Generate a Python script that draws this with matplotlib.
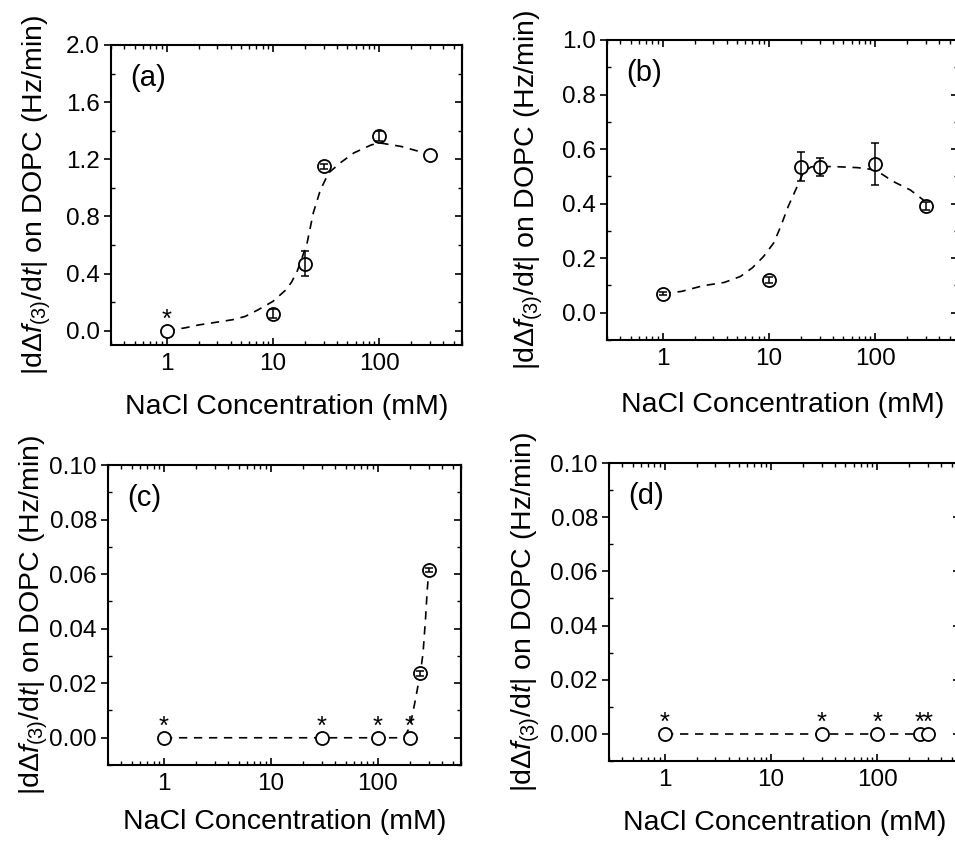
import matplotlib
matplotlib.use("Agg")
import matplotlib.pyplot as plt
from matplotlib.ticker import MultipleLocator, FixedLocator, LogLocator, FuncFormatter, FormatStrFormatter, NullFormatter

plt.rcParams["font.family"] = ["Liberation Sans", "DejaVu Sans"]
plt.rcParams["mathtext.fontset"] = "custom"
plt.rcParams["mathtext.rm"] = "Liberation Sans"
plt.rcParams["mathtext.it"] = "Liberation Sans:italic"
plt.rcParams["mathtext.bf"] = "Liberation Sans:bold"

# (a)
conc_a = [1, 10, 20, 30, 100, 300]
rate_a = [0.0, 0.12, 0.47, 1.15, 1.36, 1.23]
err_a = [0.0, 0.03, 0.09, 0.02, 0.035, 0.0]
stars_a = [1]
fit_a_x = [1, 1.5, 2, 3, 4.2, 5.5, 7.3, 10, 13, 15, 17, 19, 21, 24, 28, 33.5, 44, 58, 84, 100, 160, 250, 300]
fit_a_y = [0.0, 0.02, 0.04, 0.06, 0.077, 0.1, 0.147, 0.205, 0.28, 0.34, 0.42, 0.52, 0.615, 0.825, 0.986,
           1.105, 1.18, 1.245, 1.30, 1.315, 1.29, 1.25, 1.23]

# (b)
conc_b = [1, 10, 20, 30, 100, 300]
rate_b = [0.07, 0.12, 0.535, 0.535, 0.546, 0.392]
err_b = [0.005, 0.012, 0.053, 0.033, 0.076, 0.015]
stars_b = []
fit_b_x = [1, 1.5, 2.4, 3.8, 5.4, 7, 8.9, 11.1, 12.9, 15.2, 18.4, 21, 25, 40, 68, 100, 148, 214, 282, 300]
fit_b_y = [0.07, 0.078, 0.099, 0.111, 0.133, 0.165, 0.206, 0.256, 0.316, 0.39, 0.462, 0.513, 0.535,
           0.536, 0.532, 0.524, 0.481, 0.45, 0.414, 0.39]

# (c)
conc_c = [1, 30, 100, 200, 250, 300]
rate_c = [0.0, 0.0, 0.0, 0.0, 0.0236, 0.0615]
err_c = [0.0, 0.0, 0.0, 0.0, 0.001, 0.0008]
stars_c = [1, 30, 100, 200]
fit_c_x = [1, 30, 100, 150, 180, 200, 225, 240, 250, 265, 280, 290, 300]
fit_c_y = [0, 0, 0, 0, 0.0008, 0.004, 0.014, 0.02, 0.0236, 0.031, 0.044, 0.054, 0.0615]

# (d)
conc_d = [1, 30, 100, 250, 300]
rate_d = [0.0, 0.0, 0.0, 0.0, 0.0]
err_d = [0.0, 0.0, 0.0, 0.0, 0.0]
stars_d = [1, 30, 100, 250, 300]
fit_d_x = [1, 30, 100, 250, 300]
fit_d_y = [0, 0, 0, 0, 0]

ylabel = r"|dΔ$\mathit{f}_{(3)}$/d$\mathit{t}$| on DOPC (Hz/min)"

fig = plt.figure(figsize=(9.55, 8.42), dpi=100)

panels = [
    # rect, data, letter, ylim, major, minor, yfmt, ylabel x, xlabel y
    ([0.1162, 0.5903, 0.3675, 0.3563], (conc_a, rate_a, err_a, stars_a, fit_a_x, fit_a_y),
     "(a)", (-0.1, 2.0), 0.4, 0.2, "%.1f", -0.165, -0.163),
    ([0.6356, 0.5962, 0.3675, 0.3563], (conc_b, rate_b, err_b, stars_b, fit_b_x, fit_b_y),
     "(b)", (-0.1, 1.0), 0.2, 0.1, "%.1f", -0.178, -0.172),
    ([0.1131, 0.0914, 0.3696, 0.3563], (conc_c, rate_c, err_c, stars_c, fit_c_x, fit_c_y),
     "(c)", (-0.01, 0.10), 0.02, 0.01, "%.2f", -0.163, -0.147),
    ([0.6377, 0.0962, 0.3675, 0.3539], (conc_d, rate_d, err_d, stars_d, fit_d_x, fit_d_y),
     "(d)", (-0.01, 0.10), 0.02, 0.01, "%.2f", -0.19, -0.163),
]

for rect, data, letter, ylim, major, minor, yfmt, ylx, xly in panels:
    conc, rate, err, stars, fx, fy = data
    ax = fig.add_axes(rect)
    ax.set_xscale("log")
    ax.set_xlim(0.3, 600)
    ax.set_ylim(*ylim)

    # guide line
    ax.plot(fx, fy, color="black", lw=1.2, ls=(0, (5, 4)), zorder=2)
    # points
    ax.plot(conc, rate, "o", ms=9.4, mfc="white", mec="black", mew=1.3, zorder=3)
    ex = [c for c, e in zip(conc, err) if e > 0]
    ey = [r for r, e in zip(rate, err) if e > 0]
    ee = [e for e in err if e > 0]
    if ex:
        ax.errorbar(ex, ey, yerr=ee, fmt="none", ecolor="black", elinewidth=1.1,
                    capsize=3, capthick=1.1, zorder=4)
    for s in stars:
        ax.annotate("*", xy=(s, rate[conc.index(s)]), xytext=(0, 3), textcoords="offset points",
                    ha="center", va="baseline", fontsize=18.5)

    ax.text(0.055, 0.89, letter, transform=ax.transAxes, fontsize=21, va="center", ha="left")

    # ticks
    ax.xaxis.set_major_locator(FixedLocator([1, 10, 100]))
    ax.xaxis.set_major_formatter(FuncFormatter(lambda v, p: f"{v:g}"))
    ax.xaxis.set_minor_locator(LogLocator(base=10, subs=range(2, 10)))
    ax.xaxis.set_minor_formatter(NullFormatter())
    ax.yaxis.set_major_locator(MultipleLocator(major))
    ax.yaxis.set_minor_locator(MultipleLocator(minor))
    ax.yaxis.set_major_formatter(FormatStrFormatter(yfmt))

    ax.tick_params(axis="x", which="both", direction="in", top=True, bottom=True, labelsize=17.5, pad=6)
    ax.tick_params(axis="x", which="major", length=5, width=1.2)
    ax.tick_params(axis="x", which="minor", length=3, width=1.0)
    ax.tick_params(axis="y", which="major", direction="out", length=5, width=1.2, labelsize=17.5, pad=3)
    ax.tick_params(axis="y", which="minor", direction="in", length=3, width=1.0)

    sec = ax.secondary_yaxis("right")
    sec.yaxis.set_major_locator(MultipleLocator(major))
    sec.yaxis.set_minor_locator(MultipleLocator(minor))
    sec.tick_params(axis="y", which="both", direction="in", labelright=False)
    sec.tick_params(axis="y", which="major", length=5, width=1.2)
    sec.tick_params(axis="y", which="minor", length=3, width=1.0)
    sec.spines["right"].set_linewidth(1.5)

    for sp in ax.spines.values():
        sp.set_linewidth(1.5)

    ax.set_xlabel("NaCl Concentration (mM)", fontsize=20.5)
    ax.set_ylabel(ylabel, fontsize=20.5)
    ax.yaxis.set_label_coords(ylx, 0.5)
    ax.xaxis.set_label_coords(0.5, xly)

fig.savefig("out.png", dpi=100)
